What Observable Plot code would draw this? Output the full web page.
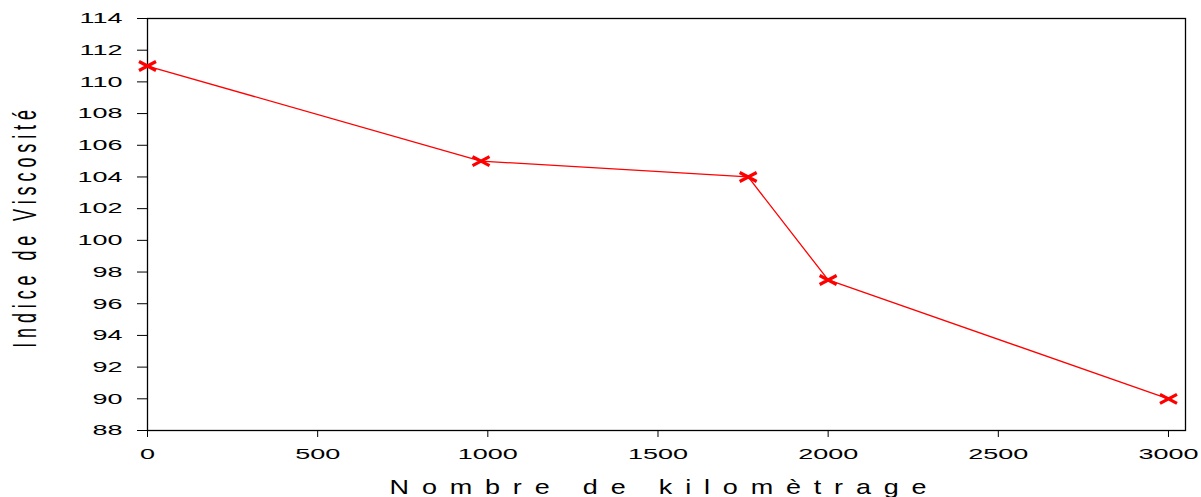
<!DOCTYPE html>
<html><head><meta charset="utf-8">
<script src="https://cdn.jsdelivr.net/npm/d3@7"></script>
<script src="https://cdn.jsdelivr.net/npm/@observablehq/plot@0.6"></script>
<style>html,body{margin:0;padding:0;background:#fff}</style>
</head><body><div id="chart"></div>
<script>
const kilometrage = [0, 980, 1765, 2000, 3000];
const viscosite = [111, 105, 104, 97.5, 90];
const xTicks = [0, 500, 1000, 1500, 2000, 2500, 3000];
const yTicks = [88, 90, 92, 94, 96, 98, 100, 102, 104, 106, 108, 110, 112, 114];
const xTitle = "Nombre de kilomètrage";
const yTitle = "Indice de Viscosité";

const data = kilometrage.map((k, i) => ({k, v: viscosite[i]}));
const wideX = {draw(ctx, size) {const w = 8.5, h = 4.5; ctx.moveTo(-w, -h); ctx.lineTo(w, h); ctx.moveTo(-w, h); ctx.lineTo(w, -h);}};

const chart = Plot.plot({
  width: 1201, height: 497,
  marginLeft: 147, marginRight: 16, marginTop: 18, marginBottom: 67,
  style: {fontFamily: "'Liberation Sans', Arial, sans-serif", fontSize: "15px", color: "#000", background: "#fff"},
  x: {domain: [0, 3050], ticks: xTicks, label: null, tickSize: 7, tickPadding: 11, tickFormat: d => String(d)},
  y: {domain: [88, 114], ticks: yTicks, label: null, tickSize: 10, tickPadding: 15, tickFormat: d => String(d)},
  marks: [
    Plot.frame({stroke: "#000", strokeWidth: 1.3}),
    Plot.line(data, {x: "k", y: "v", stroke: "red", strokeWidth: 1.3}),
    Plot.dot(data, {x: "k", y: "v", symbol: wideX, r: 5, stroke: "red", strokeWidth: 3.2, fill: "none"}),
    Plot.text([xTitle], {text: d => d, frameAnchor: "bottom", textAnchor: "middle", lineAnchor: "bottom", dy: 63, dx: -2, fontSize: 20, fill: "#000"}),
    Plot.text([yTitle], {text: d => d, frameAnchor: "left", textAnchor: "middle", lineAnchor: "bottom", rotate: -90, dx: -112, dy: 2, fontSize: 18, fill: "#000"})
  ]
});
document.getElementById("chart").append(chart);

const svg = chart.tagName.toLowerCase() === "svg" ? chart : chart.querySelector("svg");
const addT = (t, s) => t.setAttribute("transform", (t.getAttribute("transform") || "") + " " + s);
svg.querySelectorAll('g[aria-label="y-axis tick label"] text, g[aria-label="x-axis tick label"] text').forEach(t => addT(t, "scale(1.8,1)"));
svg.querySelectorAll("text").forEach(t => {
  if (t.textContent === xTitle) { addT(t, "scale(1.35,1)"); t.style.letterSpacing = "9.5px"; }
  if (t.textContent === yTitle) { addT(t, "scale(1,1.8)"); t.style.letterSpacing = "4.9px"; }
});
</script>
</body></html>
